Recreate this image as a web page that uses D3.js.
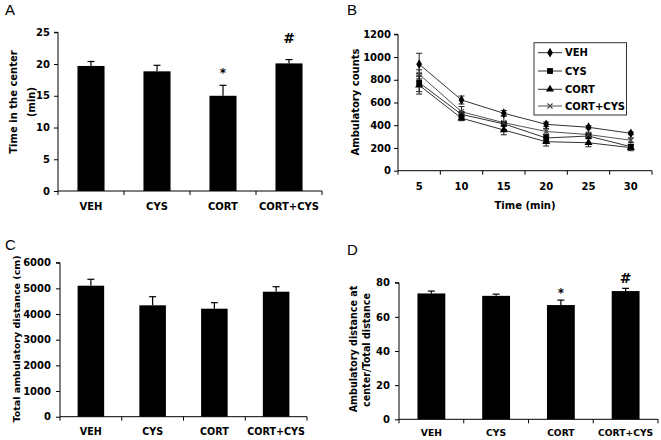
<!DOCTYPE html>
<html><head><meta charset="utf-8">
<script src="https://cdn.jsdelivr.net/npm/d3@7"></script>
<style>
html,body{margin:0;padding:0;background:#fff;}
svg{display:block;}
text{font-family:"DejaVu Sans",sans-serif;font-weight:bold;fill:#000;}
.plabel{font-family:"Liberation Sans",Arial,sans-serif;font-weight:normal;font-size:15px;}
</style></head>
<body>
<script>
// ---------- DATA ----------
const groups = ["VEH", "CYS", "CORT", "CORT+CYS"];

const timeCenter = [19.7, 18.85, 15.0, 20.1];
const timeCenterErr = [0.7, 0.95, 1.65, 0.6];
const timeCenterMarks = ["", "", "*", "#"];
const timeCenterTicks = [0, 5, 10, 15, 20, 25];

const times = [5, 10, 15, 20, 25, 30];
const countsVEH = [937, 622, 505, 408, 382, 329];
const countsCYS = [775, 495, 412, 288, 305, 211];
const countsCORT = [752, 462, 358, 255, 246, 203];
const countsCORTCYS = [848, 519, 422, 345, 318, 268];
const errVEH = [96, 35, 25, 20, 14, 12];
const errCYS = [80, 25, 20, 30, 20, 20];
const errCORT = [78, 22, 42, 38, 35, 27];
const errCORTCYS = [40, 45, 60, 25, 20, 20];
const countTicks = [0, 200, 400, 600, 800, 1000, 1200];

const totalDist = [5104, 4340, 4208, 4870];
const totalDistErr = [250, 335, 235, 195];
const totalDistTicks = [0, 1000, 2000, 3000, 4000, 5000, 6000];

const ratio = [73.7, 72.3, 66.9, 75.1];
const ratioErr = [1.4, 1.0, 2.9, 1.6];
const ratioMarks = ["", "", "*", "#"];
const ratioTicks = [0, 20, 40, 60, 80];

// ---------- DRAW ----------
const svg = d3.select("body").append("svg").attr("width", 661).attr("height", 440);

function barPanel(cfg) {
  const g = svg.append("g");
  const x = d3.scaleBand().domain(groups).range(cfg.xr).padding(0);
  const y = d3.scaleLinear().domain(cfg.ydom).range(cfg.yr);
  const bw = x.bandwidth() * cfg.barFrac;
  g.selectAll(".bar").data(groups).enter().append("rect")
    .attr("x", d => x(d) + x.bandwidth() / 2 - bw / 2)
    .attr("width", bw)
    .attr("y", (d, i) => y(cfg.vals[i]))
    .attr("height", (d, i) => y(0) - y(cfg.vals[i]))
    .attr("fill", "#000");
  groups.forEach((d, i) => {
    const cx = x(d) + x.bandwidth() / 2;
    const top = y(cfg.vals[i] + cfg.errs[i]);
    g.append("line").attr("x1", cx).attr("x2", cx).attr("y1", y(cfg.vals[i])).attr("y2", top)
      .attr("stroke", "#000").attr("stroke-width", 1.2);
    g.append("line").attr("x1", cx - 3.5).attr("x2", cx + 3.5).attr("y1", top).attr("y2", top)
      .attr("stroke", "#000").attr("stroke-width", 1.2);
    if (cfg.marks && cfg.marks[i]) {
      const m = cfg.marks[i];
      g.append("text").attr("x", cx).attr("y", top - (m === "*" ? cfg.starOff : cfg.hashOff))
        .attr("text-anchor", "middle")
        .style("font-size", m === "*" ? "12px" : "14px").text(m);
    }
  });
  const ya = g.append("g").attr("transform", `translate(${cfg.xr[0]},0)`)
    .call(d3.axisLeft(y).tickValues(cfg.ticks).tickSize(4).tickPadding(cfg.tickPad).tickFormat(d3.format("d")));
  ya.selectAll("text").style("font-size", "10px");
  ya.select(".domain").attr("d", `M-4,${cfg.yr[1]}H0V${cfg.yr[0]}`);
  const xa = g.append("g").attr("transform", `translate(0,${cfg.yr[0]})`);
  xa.append("line").attr("x1", cfg.xr[0]).attr("x2", cfg.xr[1]).attr("y1", 0).attr("y2", 0).attr("stroke", "#000");
  const bounds = groups.map(d => x(d)).concat([cfg.xr[1]]);
  bounds.forEach(b => xa.append("line").attr("x1", b).attr("x2", b).attr("y1", 0).attr("y2", 4).attr("stroke", "#000"));
  groups.forEach(d => xa.append("text").attr("x", x(d) + x.bandwidth() / 2).attr("y", cfg.labelDy)
    .attr("text-anchor", "middle").style("font-size", cfg.labelSize + "px").text(d));
  cfg.titles.forEach(t => {
    g.append("text").attr("transform", `translate(${t.x},${t.y}) rotate(-90)`)
      .attr("text-anchor", "middle").attr("dy", "0.36em").style("font-size", t.size + "px").text(t.text);
  });
  svg.append("text").attr("class", "plabel").attr("x", cfg.plabel[0]).attr("y", cfg.plabel[1]).text(cfg.plabel[2]);
}

// Panel A
barPanel({
  xr: [58, 322], yr: [191, 32.3], ydom: [0, 25], vals: timeCenter, errs: timeCenterErr,
  marks: timeCenterMarks, ticks: timeCenterTicks, barFrac: 0.41, tickPad: 4,
  starOff: 8, hashOff: 17,
  labelDy: 19, labelSize: 10,
  titles: [{ x: 13, y: 102, text: "Time in the center", size: 10 }, { x: 31, y: 102, text: "(min)", size: 10 }],
  plabel: [5, 15, "A"]
});

// Panel C
barPanel({
  xr: [60, 307], yr: [416.7, 262.7], ydom: [0, 6000], vals: totalDist, errs: totalDistErr,
  marks: null, ticks: totalDistTicks, barFrac: 0.43, tickPad: 5,
  labelDy: 18, labelSize: 9.6,
  titles: [{ x: 17, y: 339, text: "Total ambulatory distance (cm)", size: 9.5 }],
  plabel: [5, 250, "C"]
});

// Panel D
barPanel({
  xr: [399, 658], yr: [419.3, 282.7], ydom: [0, 80], vals: ratio, errs: ratioErr,
  marks: ratioMarks, ticks: ratioTicks, barFrac: 0.43, tickPad: 5,
  starOff: 3, hashOff: 5,
  labelDy: 17, labelSize: 9.2,
  titles: [{ x: 354, y: 349, text: "Ambulatory distance at", size: 9.6 }, { x: 367, y: 350, text: "center/Total distance", size: 9.6 }],
  plabel: [347, 255, "D"]
});

// Panel B
(function () {
  const g = svg.append("g");
  const xr = [398, 652], yr = [170.7, 34.3];
  const x = d3.scaleBand().domain(times).range(xr).padding(0);
  const y = d3.scaleLinear().domain([0, 1200]).range(yr);
  const cx = t => x(t) + x.bandwidth() / 2;
  const series = [
    { name: "VEH", vals: countsVEH, errs: errVEH, shape: "diamond", stroke: "#333" },
    { name: "CYS", vals: countsCYS, errs: errCYS, shape: "square", stroke: "#333" },
    { name: "CORT", vals: countsCORT, errs: errCORT, shape: "triangle", stroke: "#333" },
    { name: "CORT+CYS", vals: countsCORTCYS, errs: errCORTCYS, shape: "x", stroke: "#555" }
  ];
  function marker(sel, shape) {
    if (shape === "x") {
      sel.append("path").attr("d", "M-2.5,-2.5L2.5,2.5M-2.5,2.5L2.5,-2.5").attr("stroke", "#444").attr("stroke-width", 1.1).attr("fill", "none");
    } else {
      const sym = shape === "diamond" ? d3.symbolDiamond : shape === "square" ? d3.symbolSquare : d3.symbolTriangle;
      const size = shape === "diamond" ? 28 : shape === "square" ? 34 : 28;
      sel.append("path").attr("d", d3.symbol().type(sym).size(size)()).attr("fill", "#000");
    }
  }
  const line = d3.line().x((d, i) => cx(times[i])).y(d => y(d));
  series.forEach(s => {
    s.vals.forEach((v, i) => {
      const px = cx(times[i]);
      const lo = y(v - s.errs[i]), hi = y(v + s.errs[i]);
      g.append("line").attr("x1", px).attr("x2", px).attr("y1", lo).attr("y2", hi).attr("stroke", "#222").attr("stroke-width", 1);
      [lo, hi].forEach(yy => g.append("line").attr("x1", px - 3).attr("x2", px + 3).attr("y1", yy).attr("y2", yy).attr("stroke", "#222").attr("stroke-width", 1));
    });
    g.append("path").datum(s.vals).attr("d", line).attr("fill", "none").attr("stroke", s.stroke).attr("stroke-width", 1);
  });
  series.forEach(s => {
    s.vals.forEach((v, i) => {
      const m = g.append("g").attr("transform", `translate(${cx(times[i])},${y(v)})`);
      marker(m, s.shape);
    });
  });
  const ya = g.append("g").attr("transform", `translate(${xr[0]},0)`)
    .call(d3.axisLeft(y).tickValues(countTicks).tickSize(4).tickPadding(3).tickFormat(d3.format("d")));
  ya.selectAll("text").style("font-size", "10px");
  ya.select(".domain").attr("d", `M-4,${yr[1]}H0V${yr[0]}`);
  const xa = g.append("g").attr("transform", `translate(0,${yr[0]})`);
  xa.append("line").attr("x1", xr[0]).attr("x2", xr[1]).attr("stroke", "#000");
  times.map(t => x(t)).concat([xr[1]]).forEach(b => xa.append("line").attr("x1", b).attr("x2", b).attr("y1", 0).attr("y2", 4).attr("stroke", "#000"));
  times.forEach(t => xa.append("text").attr("x", cx(t)).attr("y", 19).attr("text-anchor", "middle").style("font-size", "10px").text(t));
  g.append("text").attr("x", (xr[0] + xr[1]) / 2).attr("y", 209).attr("text-anchor", "middle").style("font-size", "10px").text("Time (min)");
  g.append("text").attr("transform", "translate(355,102) rotate(-90)").attr("text-anchor", "middle").attr("dy", "0.36em").style("font-size", "10px").text("Ambulatory counts");
  const lg = g.append("g");
  lg.append("rect").attr("x", 534).attr("y", 42.7).attr("width", 92.5).attr("height", 72.3).attr("fill", "#fff").attr("stroke", "#333").attr("stroke-width", 1);
  const ly = [52.7, 71, 89.3, 106];
  series.forEach((s, i) => {
    lg.append("line").attr("x1", 538).attr("x2", 562).attr("y1", ly[i]).attr("y2", ly[i]).attr("stroke", s.stroke);
    marker(lg.append("g").attr("transform", `translate(550,${ly[i]})`), s.shape);
    lg.append("text").attr("x", 565).attr("y", ly[i]).attr("dy", "0.36em").style("font-size", "10px").text(s.name);
  });
  svg.append("text").attr("class", "plabel").attr("x", 347).attr("y", 15).text("B");
})();
</script>
</body></html>
